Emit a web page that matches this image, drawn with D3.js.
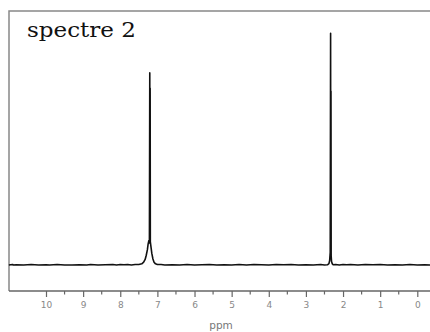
<!DOCTYPE html>
<html><head><meta charset="utf-8">
<script src="https://cdn.jsdelivr.net/npm/d3@7/dist/d3.min.js"></script>
<style>html,body{margin:0;padding:0;background:#fff;}svg{display:block;}</style>
</head><body>
<svg id="c" width="430" height="332"></svg>
<script>
// ---- data ----
const title = "spectre 2";
const axisLabel = "ppm";
const majorTicks = [10, 9, 8, 7, 6, 5, 4, 3, 2, 1, 0];
const minorTicks = [9.5, 8.5, 7.5, 6.5, 5.5, 4.5, 3.5, 2.5, 1.5, 0.5];
// chemical shift (ppm) and relative intensity
const shiftPpm = [11.0, 10.9, 10.88, 10.8, 10.6, 10.4, 10.2, 10.0, 9.9, 9.7, 9.5, 9.3, 9.1, 8.9, 8.8, 8.6, 8.4, 8.2, 8.1, 8.0, 7.9, 7.8, 7.7, 7.6, 7.5, 7.42, 7.37, 7.33, 7.3, 7.27, 7.25, 7.23, 7.215, 7.205, 7.2, 7.195, 7.19, 7.17, 7.15, 7.12, 7.09, 7.05, 7.0, 6.9, 6.8, 6.6, 6.4, 6.2, 6.0, 5.8, 5.6, 5.4, 5.2, 5.0, 4.8, 4.6, 4.4, 4.2, 4.0, 3.8, 3.6, 3.4, 3.2, 3.0, 2.8, 2.6, 2.5, 2.42, 2.38, 2.36, 2.345, 2.335, 2.33, 2.325, 2.32, 2.31, 2.29, 2.26, 2.2, 2.1, 2.0, 1.9, 1.8, 1.6, 1.4, 1.2, 1.0, 0.8, 0.6, 0.4, 0.2, 0.0, -0.2, -0.4];
const intensity = [0, 0.2, 0, 0.1, 0, 0.2, 0, 0.1, 0, 0.2, 0, 0, 0.1, 0, 0.2, 0, 0.1, 0.2, 0, 0.2, 0.1, 0.2, 0, 0.2, 0.2, 0.5, 1.2, 2.4, 4.2, 6.5, 9, 10.5, 9.5, 82.9, 10.5, 76.3, 10, 7.5, 5, 2.6, 1.2, 0.5, 0.2, 0.2, 0, 0.1, 0, 0.2, 0, 0.1, 0.2, 0, 0.1, 0, 0.2, 0, 0.2, 0.1, 0, 0.2, 0.1, 0.2, 0, 0.1, 0, 0.2, 0, 0.1, 0.6, 2, 5.5, 100, 6, 75, 4, 1.5, 0.5, 0.1, 0.2, 0, 0.2, 0.1, 0.2, 0, 0.2, 0.1, 0.2, 0, 0.1, 0, 0.2, 0, 0.1, 0];

// ---- layout ----
const svg = d3.select("#c");
const frameLeft = 9, frameTop = 11, axisY = 291, frameRight = 440;
const x = d3.scaleLinear().domain([10, 0]).range([46, 417.3]);
const y = d3.scaleLinear().domain([0, 100]).range([265, 33.3]);

// frame
svg.append("path")
  .attr("d", `M${frameRight},${frameTop}H${frameLeft}V${axisY}`)
  .attr("fill", "none").attr("stroke", "#888").attr("stroke-width", 1.5);

// axis
const axisG = svg.append("g").attr("transform", `translate(0,${axisY})`);
axisG.call(d3.axisBottom(x).tickValues(majorTicks).tickSize(6).tickPadding(5).tickFormat(d3.format("d")))
  .call(g => g.select(".domain").remove());
axisG.selectAll(".tick line").attr("stroke", "#666").attr("stroke-width", 1.2);
axisG.selectAll(".tick text").attr("fill", "#888").attr("font-family", "DejaVu Sans, sans-serif").attr("font-size", 9);
axisG.append("g").selectAll("line").data(minorTicks).join("line")
  .attr("x1", d => x(d)).attr("x2", d => x(d)).attr("y1", 0).attr("y2", 3.5)
  .attr("stroke", "#666").attr("stroke-width", 1.2);
svg.append("line").attr("x1", frameLeft).attr("x2", frameRight).attr("y1", axisY).attr("y2", axisY)
  .attr("stroke", "#666").attr("stroke-width", 1.5);

svg.append("text").attr("x", 221).attr("y", 329).attr("text-anchor", "middle")
  .attr("font-family", "DejaVu Sans, sans-serif").attr("font-size", 10.5).attr("fill", "#777").text(axisLabel);

// spectrum
const pts = shiftPpm.map((p, i) => [p, intensity[i]]);
svg.append("path").datum(pts)
  .attr("d", d3.line().x(d => x(d[0])).y(d => y(d[1])))
  .attr("fill", "none").attr("stroke", "#111").attr("stroke-width", 1.6).attr("stroke-linejoin", "round");

// title
svg.append("text").attr("x", 27).attr("y", 37)
  .attr("font-family", "DejaVu Serif, serif").attr("font-size", 20.5)
  .attr("textLength", 109).attr("lengthAdjust", "spacingAndGlyphs")
  .attr("fill", "#111").text(title);
</script>
</body></html>
